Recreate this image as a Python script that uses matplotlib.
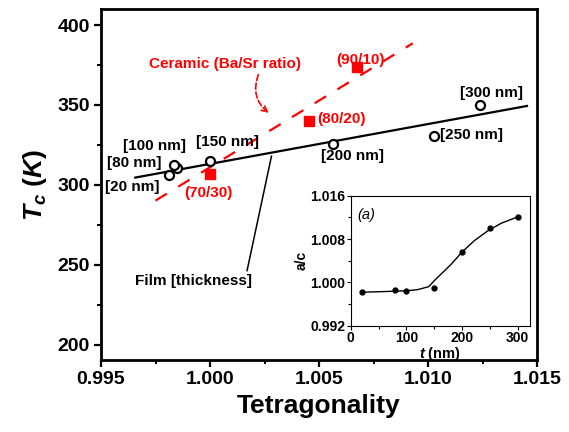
import numpy as np
import matplotlib
matplotlib.use("Agg")
from matplotlib import pyplot as plt

plt.rcParams['font.family'] = ['Liberation Sans', 'DejaVu Sans']
plt.rcParams['mathtext.fontset'] = 'custom'
plt.rcParams['mathtext.it'] = 'Liberation Sans:italic:bold'
plt.rcParams['mathtext.rm'] = 'Liberation Sans:bold'
plt.rcParams['mathtext.bf'] = 'Liberation Sans:bold'

# film data: tetragonality vs Tc
film_labels = ['[20 nm]', '[80 nm]', '[100 nm]', '[150 nm]', '[200 nm]', '[250 nm]', '[300 nm]']
film_tet = [0.99812, 0.99847, 0.99835, 1.0000, 1.00563, 1.01028, 1.0124]
film_tc = [306.2, 310.4, 312.5, 315.2, 325.4, 330.6, 350.0]

# linear fit through film data
fit_tet = [0.99657, 1.01454]
fit_tc = [304.6, 349.4]

# ceramic data
cer_labels = ['(70/30)', '(80/20)', '(90/10)']
cer_tet = [1.0000, 1.00455, 1.00676]
cer_tc = [306.9, 340.2, 373.6]
cer_line_tet = [0.9975, 1.0093]
cer_line_tc = [290.2, 388.6]

# inset: a/c vs thickness
t_nm = [20, 80, 100, 150, 200, 250, 300]
a_over_c = [0.99815, 0.99852, 0.99840, 0.99902, 1.00554, 1.00998, 1.01214]
curve_t = [20, 60, 100, 120, 140, 150, 165, 180, 200, 222, 246, 270, 300]
curve_ac = [0.99818, 0.99830, 0.99845, 0.99865, 0.99920, 1.00030, 1.00180, 1.00330, 1.00560, 1.00770, 1.00950, 1.01090, 1.01210]

fig = plt.figure(figsize=(5.69, 4.32), dpi=100)
ax = fig.add_axes([0.1775, 0.1667, 0.7663, 0.8123])

ax.plot(fit_tet, fit_tc, color='black', lw=1.6, zorder=2)
ax.plot(film_tet, film_tc, 'o', mfc='white', mec='black', ms=6.5, mew=1.6, zorder=3)
ax.plot(cer_line_tet, cer_line_tc, color='red', lw=1.6, dashes=(6, 6), zorder=2)
ax.plot(cer_tet, cer_tc, 's', color='red', ms=6.5, zorder=3)

# labels for film points
film_pos = [(0.99519, 298.8), (0.99528, 313.75), (0.99602, 324.4), (0.99935, 326.9),
            (1.00509, 318.1), (1.01056, 331.3), (1.01148, 357.5)]
for lab, (x, y) in zip(film_labels, film_pos):
    ax.text(x, y, lab, fontsize=11, fontweight='bold', ha='left', va='center')

cer_pos = [(0.9988, 295.0), (1.00491, 341.3), (1.00579, 378.1)]
for lab, (x, y) in zip(cer_labels, cer_pos):
    ax.text(x, y, lab, fontsize=11, fontweight='bold', color='red', ha='left', va='center')

ax.text(0.99718, 375.6, 'Ceramic (Ba/Sr ratio)', fontsize=11, fontweight='bold',
        color='red', ha='left', va='center')
ax.annotate('', xy=(1.00269, 345), xytext=(1.00222, 369),
            arrowprops=dict(arrowstyle='->', color='red', lw=1.2, linestyle='--',
                            connectionstyle='arc3,rad=0.35', shrinkA=0, shrinkB=0))

ax.text(0.99657, 240, 'Film [thickness]', fontsize=11, fontweight='bold', ha='left', va='center')
ax.plot([1.0017, 1.00282], [246.4, 318.0], color='black', lw=1.1)

ax.set_xlim(0.995, 1.015)
ax.set_ylim(190.5, 410)
ax.set_xticks([0.995, 1.000, 1.005, 1.010, 1.015])
ax.set_xticklabels(['0.995', '1.000', '1.005', '1.010', '1.015'])
ax.set_yticks([200, 250, 300, 350, 400])
ax.set_xticks([0.9975, 1.0025, 1.0075, 1.0125], minor=True)
ax.set_yticks([225, 275, 325, 375], minor=True)
ax.tick_params(which='major', direction='out', length=5, width=1.6, labelsize=14, pad=3)
ax.tick_params(which='minor', direction='out', length=3, width=1.4)
for lab in ax.get_xticklabels() + ax.get_yticklabels():
    lab.set_fontweight('bold')
for s in ax.spines.values():
    s.set_linewidth(2)

ax.set_xlabel('Tetragonality', fontsize=19, fontweight='bold', labelpad=4)
ax.set_ylabel(r'$T_c\ (K)$', fontsize=19, labelpad=6)

# inset
ins = fig.add_axes([0.6164, 0.2461, 0.3151, 0.3009])
ins.plot(curve_t, curve_ac, color='black', lw=1.0)
ins.plot(t_nm, a_over_c, 'o', color='black', ms=3.5)
ins.set_xlim(0, 322)
ins.set_ylim(0.992, 1.016)
ins.set_xticks([0, 100, 200, 300])
ins.set_xticks([50, 150, 250], minor=True)
ins.set_yticks([0.992, 1.000, 1.008, 1.016])
ins.set_yticklabels(['0.992', '1.000', '1.008', '1.016'])
ins.set_yticks([0.996, 1.004, 1.012], minor=True)
ins.tick_params(which='major', direction='out', length=3, width=0.8, labelsize=10, pad=1)
ins.tick_params(which='minor', direction='out', length=2, width=0.8)
for lab in ins.get_xticklabels() + ins.get_yticklabels():
    lab.set_fontweight('bold')
for s in ins.spines.values():
    s.set_linewidth(0.8)
ins.set_xlabel(r'$t$ (nm)', fontsize=10.5, fontweight='bold', labelpad=0)
ins.set_ylabel('a/c', fontsize=10, fontweight='bold', labelpad=1)
ins.text(12, 1.0125, '(a)', fontsize=10.5, style='italic', ha='left', va='center')

fig.savefig('out.png', dpi=100)
